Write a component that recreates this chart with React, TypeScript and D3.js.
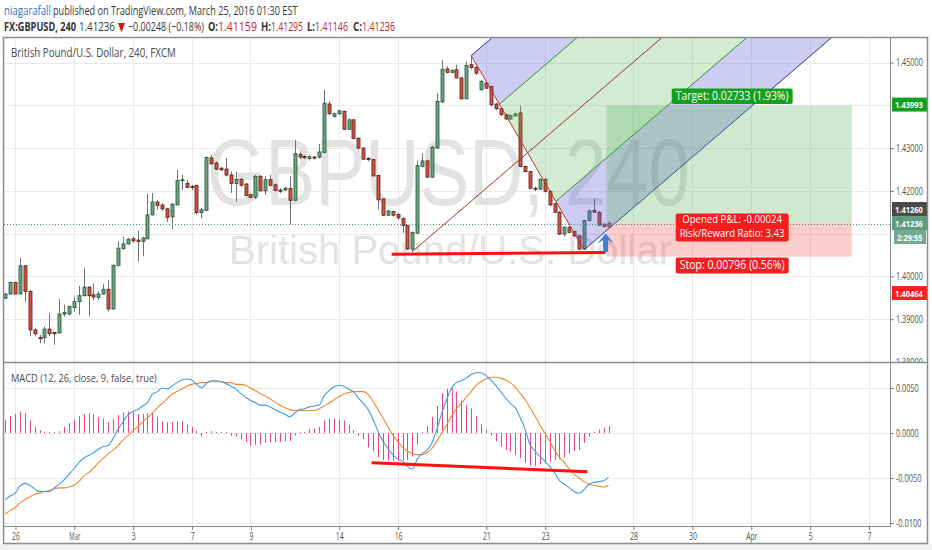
import { useEffect, useRef } from 'react';
import * as d3 from 'd3';

// GBPUSD 240 (FXCM) candles, one entry per 4h bar
const OPEN = [
  1.3949, 1.3959, 1.3986, 1.3959, 1.4025, 1.3965, 1.3875, 1.3857, 1.3857, 1.3877,
  1.3869, 1.3868, 1.3912, 1.3912, 1.3927, 1.3941, 1.3955, 1.3975, 1.3957, 1.3951,
  1.3959, 1.3970, 1.3924, 1.4026, 1.4065, 1.4076, 1.4088, 1.4085, 1.4082, 1.4088,
  1.4144, 1.4174, 1.4167, 1.4158, 1.4139, 1.4167, 1.4224, 1.4217, 1.4210, 1.4213,
  1.4149, 1.4154, 1.4277, 1.4265, 1.4253, 1.4251, 1.4237, 1.4217, 1.4227, 1.4216,
  1.4191, 1.4185, 1.4234, 1.4200, 1.4226, 1.4214, 1.4202, 1.4202, 1.4206, 1.4178,
  1.4285, 1.4280, 1.4276, 1.4279, 1.4279, 1.4290, 1.4403, 1.4374, 1.4380, 1.4386,
  1.4344, 1.4366, 1.4323, 1.4300, 1.4276, 1.4273, 1.4236, 1.4181, 1.4143, 1.4152,
  1.4145, 1.4135, 1.4119, 1.4064, 1.4101, 1.4257, 1.4270, 1.4232, 1.4300, 1.4408,
  1.4485, 1.4477, 1.4483, 1.4464, 1.4415, 1.4495, 1.4488, 1.4436, 1.4452, 1.4444,
  1.4403, 1.4392, 1.4378, 1.4368, 1.4375, 1.4382, 1.4257, 1.4245, 1.4206, 1.4204,
  1.4227, 1.4199, 1.4170, 1.4150, 1.4099, 1.4115, 1.4105, 1.4095, 1.4064, 1.4131,
  1.4154, 1.4150, 1.4122, 1.41159,
];
const HIGH = [
  1.3961, 1.3988, 1.3987, 1.4043, 1.4026, 1.3969, 1.3879, 1.3864, 1.3883, 1.3914,
  1.3871, 1.3947, 1.3934, 1.3931, 1.3953, 1.3978, 1.4019, 1.3977, 1.3983, 1.3965,
  1.3982, 1.3991, 1.4028, 1.4082, 1.4093, 1.4089, 1.4093, 1.4107, 1.4093, 1.4193,
  1.4195, 1.4179, 1.4171, 1.4160, 1.4171, 1.4249, 1.4237, 1.4226, 1.4214, 1.4214,
  1.4160, 1.4280, 1.4284, 1.4269, 1.4255, 1.4277, 1.4245, 1.4245, 1.4230, 1.4218,
  1.4193, 1.4237, 1.4237, 1.4234, 1.4237, 1.4217, 1.4206, 1.4210, 1.4234, 1.4319,
  1.4292, 1.4284, 1.4283, 1.4282, 1.4310, 1.4436, 1.4409, 1.4383, 1.4389, 1.4388,
  1.4369, 1.4368, 1.4325, 1.4302, 1.4279, 1.4274, 1.4237, 1.4182, 1.4156, 1.4153,
  1.4148, 1.4139, 1.4120, 1.4105, 1.4271, 1.4288, 1.4273, 1.4305, 1.4428, 1.4506,
  1.4491, 1.4484, 1.4495, 1.4467, 1.4502, 1.4516, 1.4491, 1.4460, 1.4454, 1.4446,
  1.4406, 1.4393, 1.4380, 1.4378, 1.4382, 1.4399, 1.4259, 1.4247, 1.4210, 1.4230,
  1.4230, 1.4201, 1.4171, 1.4153, 1.4117, 1.4117, 1.4106, 1.4097, 1.4132, 1.4156,
  1.4183, 1.4153, 1.4125, 1.41295,
];
const LOW = [
  1.3947, 1.3957, 1.3958, 1.3958, 1.3941, 1.3860, 1.3860, 1.3844, 1.3844, 1.3860,
  1.3840, 1.3866, 1.3906, 1.3909, 1.3918, 1.3910, 1.3953, 1.3906, 1.3945, 1.3945,
  1.3957, 1.3918, 1.3922, 1.4023, 1.4062, 1.4074, 1.4079, 1.4035, 1.4047, 1.4087,
  1.4142, 1.4156, 1.4153, 1.4127, 1.4110, 1.4166, 1.4202, 1.4206, 1.4202, 1.4144,
  1.4135, 1.4153, 1.4262, 1.4249, 1.4247, 1.4234, 1.4195, 1.4175, 1.4210, 1.4187,
  1.4182, 1.4181, 1.4199, 1.4191, 1.4210, 1.4199, 1.4195, 1.4200, 1.4122, 1.4176,
  1.4274, 1.4274, 1.4271, 1.4273, 1.4276, 1.4288, 1.4378, 1.4372, 1.4378, 1.4343,
  1.4343, 1.4321, 1.4297, 1.4273, 1.4269, 1.4234, 1.4156, 1.4142, 1.4142, 1.4140,
  1.4132, 1.4101, 1.4062, 1.4058, 1.4100, 1.4255, 1.4231, 1.4231, 1.4298, 1.4405,
  1.4475, 1.4475, 1.4463, 1.4414, 1.4414, 1.4484, 1.4471, 1.4435, 1.4438, 1.4397,
  1.4389, 1.4375, 1.4366, 1.4366, 1.4374, 1.4255, 1.4243, 1.4204, 1.4199, 1.4202,
  1.4196, 1.4165, 1.4148, 1.4097, 1.4093, 1.4101, 1.4092, 1.4061, 1.4062, 1.4128,
  1.4148, 1.4118, 1.4115, 1.41146,
];
const CLOSE = [
  1.3959, 1.3986, 1.3959, 1.4025, 1.3965, 1.3875, 1.3866, 1.3854, 1.3877, 1.3866,
  1.3866, 1.3912, 1.3916, 1.3930, 1.3941, 1.3955, 1.3975, 1.3955, 1.3952, 1.3959,
  1.3970, 1.3924, 1.4026, 1.4066, 1.4076, 1.4087, 1.4083, 1.4082, 1.4090, 1.4144,
  1.4174, 1.4166, 1.4158, 1.4138, 1.4169, 1.4224, 1.4226, 1.4208, 1.4208, 1.4149,
  1.4156, 1.4278, 1.4263, 1.4251, 1.4249, 1.4237, 1.4217, 1.4227, 1.4213, 1.4189,
  1.4185, 1.4234, 1.4200, 1.4226, 1.4213, 1.4201, 1.4199, 1.4206, 1.4178, 1.4287,
  1.4279, 1.4278, 1.4280, 1.4277, 1.4291, 1.4405, 1.4380, 1.4380, 1.4387, 1.4344,
  1.4366, 1.4322, 1.4300, 1.4274, 1.4273, 1.4235, 1.4179, 1.4143, 1.4153, 1.4143,
  1.4137, 1.4119, 1.4064, 1.4103, 1.4259, 1.4270, 1.4232, 1.4302, 1.4409, 1.4484,
  1.4477, 1.4481, 1.4464, 1.4415, 1.4493, 1.4488, 1.4475, 1.4456, 1.4440, 1.4401,
  1.4392, 1.4378, 1.4368, 1.4376, 1.4380, 1.4257, 1.4245, 1.4206, 1.4204, 1.4227,
  1.4199, 1.4167, 1.4150, 1.4099, 1.4115, 1.4103, 1.4095, 1.4064, 1.4131, 1.4153,
  1.4150, 1.4120, 1.4117, 1.41236,
];

// MACD (12, 26, close, 9)
const MACD = [
  -0.0074, -0.0070, -0.0067, -0.0059, -0.0056, -0.0058, -0.0062, -0.0065, -0.0065, -0.0065,
  -0.0061, -0.0057, -0.0052, -0.0046, -0.0040, -0.0033, -0.0028, -0.0025, -0.0022, -0.0018,
  -0.0015, -0.0014, -0.0006, 0.0004, 0.0012, 0.0020, 0.0024, 0.0026, 0.0030, 0.0034,
  0.0043, 0.0046, 0.0050, 0.0049, 0.0052, 0.0056, 0.0059, 0.0060, 0.0059, 0.0054,
  0.0050, 0.0055, 0.0058, 0.0058, 0.0057, 0.0055, 0.0052, 0.0049, 0.0044, 0.0040,
  0.0036, 0.0034, 0.0031, 0.0031, 0.0029, 0.0026, 0.0023, 0.0021, 0.0018, 0.0022,
  0.0026, 0.0027, 0.0029, 0.0030, 0.0031, 0.0041, 0.0047, 0.0051, 0.0053, 0.0052,
  0.0049, 0.0046, 0.0039, 0.0033, 0.0026, 0.0015, 0.0002, -0.0009, -0.0017, -0.0024,
  -0.0029, -0.0031, -0.0037, -0.0040, -0.0029, -0.0023, -0.0019, -0.0011, 0.0004, 0.0022,
  0.0037, 0.0050, 0.0056, 0.0058, 0.0061, 0.0065, 0.0067, 0.0067, 0.0064, 0.0059,
  0.0053, 0.0046, 0.0039, 0.0033, 0.0028, 0.0017, 0.0004, -0.0013, -0.0020, -0.0026,
  -0.0031, -0.0037, -0.0044, -0.0053, -0.0057, -0.0061, -0.0065, -0.0067, -0.0063, -0.0057,
  -0.0055, -0.0054, -0.0053, -0.0049,
];
const SIGNAL = [
  -0.0090, -0.0086, -0.0083, -0.0078, -0.0074, -0.0071, -0.0068, -0.0067, -0.0065, -0.0064,
  -0.0062, -0.0061, -0.0061, -0.0060, -0.0058, -0.0054, -0.0048, -0.0044, -0.0039, -0.0033,
  -0.0028, -0.0023, -0.0019, -0.0014, -0.0008, -0.0003, 0.0002, 0.0007, 0.0012, 0.0017,
  0.0022, 0.0028, 0.0033, 0.0038, 0.0043, 0.0046, 0.0049, 0.0052, 0.0054, 0.0055,
  0.0056, 0.0056, 0.0057, 0.0057, 0.0057, 0.0056, 0.0056, 0.0054, 0.0054, 0.0053,
  0.0050, 0.0047, 0.0044, 0.0041, 0.0038, 0.0034, 0.0031, 0.0028, 0.0026, 0.0025,
  0.0025, 0.0025, 0.0025, 0.0025, 0.0027, 0.0030, 0.0033, 0.0037, 0.0040, 0.0043,
  0.0045, 0.0046, 0.0046, 0.0046, 0.0043, 0.0035, 0.0026, 0.0017, 0.0007, -0.0002,
  -0.0009, -0.0016, -0.0020, -0.0023, -0.0024, -0.0024, -0.0022, -0.0017, -0.0009, 0.0000,
  0.0009, 0.0019, 0.0027, 0.0033, 0.0040, 0.0046, 0.0053, 0.0057, 0.0060, 0.0062,
  0.0062, 0.0061, 0.0059, 0.0056, 0.0051, 0.0044, 0.0037, 0.0028, 0.0019, 0.0009,
  0.0000, -0.0009, -0.0019, -0.0027, -0.0033, -0.0040, -0.0046, -0.0050, -0.0054, -0.0057,
  -0.0058, -0.0059, -0.0060, -0.0058,
];
const HIST = [
  0.0014, 0.0019, 0.0021, 0.0024, 0.0022, 0.0014, 0.0007, 0.0003, 0.0001, 0.0000,
  0.0000, 0.0002, 0.0007, 0.0011, 0.0015, 0.0019, 0.0021, 0.0022, 0.0021, 0.0018,
  0.0016, 0.0012, 0.0016, 0.0020, 0.0023, 0.0024, 0.0023, 0.0021, 0.0021, 0.0022,
  0.0023, 0.0018, 0.0013, 0.0012, 0.0012, 0.0013, 0.0013, 0.0009, 0.0007, 0.0002,
  -0.0004, 0.0001, 0.0002, 0.0001, 0.0001, 0.0000, -0.0003, -0.0004, -0.0007, -0.0010,
  -0.0014, -0.0013, -0.0013, -0.0011, -0.0010, -0.0010, -0.0010, -0.0009, -0.0009, -0.0003,
  -0.0001, 0.0001, 0.0004, 0.0005, 0.0007, 0.0014, 0.0016, 0.0016, 0.0015, 0.0014,
  0.0009, 0.0003, -0.0003, -0.0007, -0.0016, -0.0020, -0.0027, -0.0030, -0.0031, -0.0031,
  -0.0031, -0.0030, -0.0030, -0.0026, -0.0013, 0.0001, 0.0008, 0.0018, 0.0030, 0.0044,
  0.0049, 0.0050, 0.0046, 0.0036, 0.0031, 0.0027, 0.0019, 0.0010, 0.0003, -0.0003,
  -0.0009, -0.0015, -0.0019, -0.0021, -0.0024, -0.0028, -0.0033, -0.0036, -0.0037, -0.0035,
  -0.0034, -0.0032, -0.0030, -0.0029, -0.0027, -0.0023, -0.0020, -0.0019, -0.0011, -0.0004,
  0.0001, 0.0004, 0.0006, 0.0008,
];

// time axis: bar index of the first bar of each labelled day
const DATE_TICKS = [2, 14, 26, 38, 50, 68, 80, 98, 110, 128, 140, 152, 164, 176];
const DATE_LABELS = ['26', 'Mar', '3', '7', '9', '14', '16', '21', '23', '28', '30', 'Apr', '5', '7'];
const PRICE_TICKS = [1.45, 1.44, 1.43, 1.42, 1.41, 1.4, 1.39, 1.38];
const MACD_TICKS = [0.005, 0, -0.005, -0.01];

// pitchfork anchors: low, high, low
const FORK_BARS = [83, 95, 118];
const FORK_PRICES = [1.4058, 1.4516, 1.4062];

// long position tool
const ENTRY = 1.4126;
const TARGET = 1.43993;
const STOP = 1.40464;
const LAST = 1.41236;
const POS_BARS = [122.6, 172.6];

// hand drawn lines
const SUPPORT_BARS = [78.8, 122.4];
const SUPPORT_PRICES = [1.4052, 1.4056];
const MACD_TREND_BARS = [74.7, 118.7];
const MACD_TREND_VALUES = [-0.0033, -0.0043];
const ARROW_BAR = 122.4;
const ARROW_PRICES = [1.4057, 1.4101];

// header pieces: text, left, right, colour, bold
const HEADER_1: [string, number, number, string, boolean][] = [
  ['niagarafall', 4, 51, '#2a78c8', false],
  ['published on TradingView.com, March 25, 2016 01:30 EST', 53, 298, '#3a3a3a', false],
];
const HEADER_2: [string, number, number, string, boolean][] = [
  ['FX:GBPUSD, 240', 4, 76, '#333333', true],
  ['1.41236', 79, 115, '#3a3a3a', false],
  ['▼', 118, 125, '#d01818', false],
  ['−0.00248 (−0.18%)', 128, 204, '#3a3a3a', false],
  ['O:', 208, 218, '#333333', true],
  ['1.41159', 218, 257, '#c2262e', false],
  ['H:', 261, 271, '#333333', true],
  ['1.41295', 271, 303, '#c2262e', false],
  ['L:', 307, 315, '#333333', true],
  ['1.41146', 315, 348, '#c2262e', false],
  ['C:', 353, 362, '#333333', true],
  ['1.41236', 362, 395, '#c2262e', false],
];

const FONT = '"Open Sans", "DejaVu Sans", sans-serif';
const L = 4;
const R = 890;
const RR = 928;
const TOP = 38;
const MAIN_B = 362;
const MACD_T = 363;
const MACD_B = 526;
const AXIS_B = 544;

const UP = '#6ba583';
const UP_BORDER = '#225437';
const DOWN = '#d75442';
const DOWN_BORDER = '#5b1a13';
const WICK = '#737375';

const charW = (s: string) =>
  s.split('').reduce((a, c) => a + (c === '.' || c === ':' ? 1.9 : c === '-' ? 2.8 : 4.15), 0);

// squeeze a text horizontally to a given width (the reference uses a narrow face)
const fit = (sel: any, x0: number | ((s: string) => number), w: number | ((s: string) => number), anchor = 'start') => {
  sel.each(function (this: SVGTextElement) {
    const t = d3.select(this);
    const txt = this.textContent || '';
    const y = +(t.attr('y') || 0);
    t.attr('x', 0).attr('y', 0).attr('text-anchor', 'start');
    const n = this.getComputedTextLength();
    const ww = typeof w === 'function' ? w(txt) : w;
    const xx = typeof x0 === 'function' ? x0(txt) : x0;
    const s = n > 0 ? ww / n : 1;
    const left = anchor === 'start' ? xx : anchor === 'middle' ? xx - ww / 2 : xx - ww;
    t.attr('transform', `translate(${left},${y}) scale(${s},1)`);
  });
};

export default function App() {
  const svgRef = useRef<SVGSVGElement>(null);

  useEffect(() => {
    if (!svgRef.current) return;
    const svg = d3.select(svgRef.current);
    svg.selectAll('*').remove();

    const x = d3.scaleLinear().domain([0, 176]).range([5.2, 868.5]);
    const yP = d3.scaleLinear().domain([1.38, 1.45]).range([MAIN_B, 62.5]);
    const yM = d3.scaleLinear().domain([-0.01, 0.005]).range([523, 388]);
    const px = (k: number) => Math.round(x(k)) + 0.5;

    // price-scale badges (centre y, text, colour, left, width)
    const BADGES: [number, string, string, number, number][] = [
      [yP(TARGET) - 1, TARGET.toFixed(5), '#14a01f', R + 2, 36],
      [yP(ENTRY) - 13.5, ENTRY.toFixed(5), '#4a4a4a', R + 2, 36],
      [yP(LAST) - 0.5, LAST.toFixed(5), '#5e9c80', R + 2, 36],
      [yP(LAST) + 13.5, '2:29:55', '#74a991', R + 4, 32],
      [yP(STOP) + 36.5, STOP.toFixed(5), '#ff1c1c', R + 2, 36],
    ];

    const defs = svg.append('defs');
    defs.append('clipPath').attr('id', 'clip-main')
      .append('rect').attr('x', L).attr('y', TOP).attr('width', R - L).attr('height', MAIN_B - TOP);
    defs.append('clipPath').attr('id', 'clip-macd')
      .append('rect').attr('x', L).attr('y', MACD_T).attr('width', R - L).attr('height', MACD_B - MACD_T);
    defs.append('clipPath').attr('id', 'clip-paxis')
      .append('rect').attr('x', R).attr('y', TOP).attr('width', RR - R).attr('height', MAIN_B - TOP);

    svg.append('rect').attr('width', 932).attr('height', 550).attr('fill', '#ffffff');
    svg.append('rect').attr('y', AXIS_B).attr('width', 932).attr('height', 550 - AXIS_B).attr('fill', '#f0f1f3');

    // header
    const header = (rows: [string, number, number, string, boolean][], y: number) => {
      rows.forEach(([t, a, b, c, bold]) => {
        const el = svg.append('text').attr('y', y).attr('font-family', FONT).attr('font-size', 12.5)
          .attr('fill', c).attr('font-weight', bold ? 'bold' : 'normal').text(t);
        fit(el, a, b - a);
      });
    };
    header(HEADER_1, 14.5);
    header(HEADER_2, 30.5);

    // grid
    const grid = svg.append('g').attr('stroke', '#e9e9e9').attr('stroke-width', 1);
    PRICE_TICKS.forEach(v => {
      const y = Math.round(yP(v)) + 0.5;
      if (y > TOP && y < MAIN_B) grid.append('line').attr('x1', L).attr('x2', R).attr('y1', y).attr('y2', y);
    });
    MACD_TICKS.forEach(v => {
      const y = Math.round(yM(v)) + 0.5;
      grid.append('line').attr('x1', L).attr('x2', R).attr('y1', y).attr('y2', y);
    });
    DATE_TICKS.forEach(k => {
      grid.append('line').attr('x1', px(k)).attr('x2', px(k)).attr('y1', TOP).attr('y2', MACD_B);
    });

    // ---------- main pane ----------
    const main = svg.append('g').attr('clip-path', 'url(#clip-main)');

    // watermark
    fit(main.append('text').attr('y', 205)
      .attr('font-family', '"Liberation Sans", Arial, sans-serif').attr('font-size', 94)
      .attr('fill', '#e2e2e2').text('GBPUSD, 240'), 207, 483);
    fit(main.append('text').attr('y', 264)
      .attr('font-family', '"Liberation Sans", Arial, sans-serif').attr('font-size', 40)
      .attr('fill', '#e3e3e3').text('British Pound/U.S. Dollar'), 229, 443);

    // candles
    const bars = d3.range(OPEN.length);
    main.append('g').selectAll('line').data(bars).enter().append('line')
      .attr('x1', k => px(k)).attr('x2', k => px(k))
      .attr('y1', k => yP(HIGH[k])).attr('y2', k => yP(LOW[k]))
      .attr('stroke', WICK).attr('stroke-width', 1);
    main.append('g').selectAll('rect').data(bars).enter().append('rect')
      .attr('x', k => Math.round(x(k)) - 1)
      .attr('width', 3)
      .attr('y', k => yP(Math.max(OPEN[k], CLOSE[k])))
      .attr('height', k => Math.max(1, Math.abs(yP(OPEN[k]) - yP(CLOSE[k]))))
      .attr('fill', k => (CLOSE[k] >= OPEN[k] ? UP : DOWN))
      .attr('stroke', k => (CLOSE[k] >= OPEN[k] ? UP_BORDER : DOWN_BORDER))
      .attr('stroke-width', 0.8);

    // pitchfork
    const p1: [number, number] = [x(FORK_BARS[0]), yP(FORK_PRICES[0])];
    const p2: [number, number] = [x(FORK_BARS[1]), yP(FORK_PRICES[1])];
    const p3: [number, number] = [x(FORK_BARS[2]), yP(FORK_PRICES[2])];
    const mid = (a: number[], b: number[]): [number, number] => [(a[0] + b[0]) / 2, (a[1] + b[1]) / 2];
    const m = mid(p2, p3);
    const dx = m[0] - p1[0];
    const dy = m[1] - p1[1];
    const len = Math.hypot(dx, dy);
    const ext = (p: number[]): [number, number] => [p[0] + (dx / len) * 1200, p[1] + (dy / len) * 1200];
    const uh = mid(p2, m);
    const lh = mid(m, p3);
    const fork = main.append('g');
    const bands: [number[], number[], string][] = [
      [p2, uh, 'rgba(90, 90, 215, 0.30)'],
      [uh, m, 'rgba(76, 175, 80, 0.25)'],
      [m, lh, 'rgba(76, 175, 80, 0.25)'],
      [lh, p3, 'rgba(90, 90, 215, 0.30)'],
    ];
    bands.forEach(([a, b, c]) => {
      fork.append('path')
        .attr('d', d3.line()([a as [number, number], b as [number, number], ext(b), ext(a)]) + 'Z')
        .attr('fill', c);
    });
    const seg = (a: number[], b: number[], color: string) =>
      fork.append('line').attr('x1', a[0]).attr('y1', a[1]).attr('x2', b[0]).attr('y2', b[1])
        .attr('stroke', color).attr('stroke-width', 1);
    seg(p2, ext(p2), '#2e2ea8');
    seg(p3, ext(p3), '#2e2ea8');
    seg(uh, ext(uh), '#2f8f2f');
    seg(lh, ext(lh), '#2f8f2f');
    seg(p1, ext(m), '#9a3428');
    seg(p2, p3, '#b0392b');

    // long position
    const pos = main.append('g');
    const xa = x(POS_BARS[0]);
    const xb = x(POS_BARS[1]);
    pos.append('rect').attr('x', xa).attr('width', xb - xa)
      .attr('y', yP(TARGET)).attr('height', yP(ENTRY) - yP(TARGET))
      .attr('fill', 'rgba(76, 175, 80, 0.27)');
    pos.append('rect').attr('x', xa).attr('width', xb - xa)
      .attr('y', yP(ENTRY)).attr('height', yP(STOP) - yP(ENTRY))
      .attr('fill', 'rgba(244, 67, 54, 0.26)');

    // current price line
    main.append('line').attr('x1', L).attr('x2', R)
      .attr('y1', Math.round(yP(LAST)) + 0.5).attr('y2', Math.round(yP(LAST)) + 0.5)
      .attr('stroke', '#3e8b70').attr('stroke-dasharray', '1,2');

    // support line + arrow
    main.append('line')
      .attr('x1', x(SUPPORT_BARS[0])).attr('y1', yP(SUPPORT_PRICES[0]))
      .attr('x2', x(SUPPORT_BARS[1])).attr('y2', yP(SUPPORT_PRICES[1]))
      .attr('stroke', '#ff1010').attr('stroke-width', 3);
    const ax = x(ARROW_BAR);
    const ay0 = yP(ARROW_PRICES[0]);
    const ay1 = yP(ARROW_PRICES[1]);
    main.append('path')
      .attr('d', `M${ax},${ay1} L${ax + 8},${ay1 + 10} L${ax + 2.5},${ay1 + 7} L${ax + 2.5},${ay0} L${ax - 2.5},${ay0} L${ax - 2.5},${ay1 + 7} L${ax - 8},${ay1 + 10} Z`)
      .attr('fill', '#3f7fd6');

    // position labels
    const cx = (xa + xb) / 2 + 3;
    const label = (top: number, h: number, w: number, bg: string, lines: string[], tw: number, size: number, lead: number) => {
      const g = main.append('g');
      g.append('rect').attr('x', cx - w / 2).attr('y', top).attr('width', w).attr('height', h)
        .attr('rx', 2).attr('fill', bg);
      lines.forEach((s, i) => {
        fit(g.append('text').attr('y', top + size - 0.5 + i * lead)
          .attr('font-family', FONT).attr('font-size', size).attr('fill', '#ffffff').text(s), cx, tw - i * 0, 'middle');
      });
    };
    label(yP(TARGET) - 17, 15.5, 121, '#14a01f', ['Target: 0.02733 (1.93%)'], 113, 12, 0);
    label(yP(ENTRY) - 9, 28, 113, '#f51d1d', ['Opened P&L: -0.00024'], 100, 10, 0);
    label(yP(ENTRY) + 4.5, 0, 0, '#f51d1d', ['Risk/Reward Ratio: 3.43'], 105, 10, 0);
    label(yP(STOP) + 1, 16, 113, '#f51d1d', ['Stop: 0.00796 (0.56%)'], 105, 12, 0);

    // title
    fit(svg.append('text').attr('y', 57).attr('font-family', FONT).attr('font-size', 12.5)
      .attr('fill', '#4a4a4a').text('British Pound/U.S. Dollar, 240, FXCM'), 11, 165);

    // ---------- MACD pane ----------
    const macd = svg.append('g').attr('clip-path', 'url(#clip-macd)');
    macd.append('g').selectAll('line').data(bars).enter().append('line')
      .attr('x1', k => px(k)).attr('x2', k => px(k))
      .attr('y1', yM(0))
      .attr('y2', k => {
        const y = yM(HIST[k]);
        return Math.abs(y - yM(0)) < 1 ? yM(0) - 1 : y;
      })
      .attr('stroke', '#e6468e').attr('stroke-width', 1);
    const lineGen = (vals: number[]) =>
      d3.line<number>().x(k => x(k)).y(k => yM(vals[k])).curve(d3.curveMonotoneX)(bars);
    macd.append('path').attr('d', lineGen(SIGNAL)).attr('fill', 'none')
      .attr('stroke', '#f0882c').attr('stroke-width', 1.1);
    macd.append('path').attr('d', lineGen(MACD)).attr('fill', 'none')
      .attr('stroke', '#3d9be3').attr('stroke-width', 1.1);
    macd.append('line')
      .attr('x1', x(MACD_TREND_BARS[0])).attr('y1', yM(MACD_TREND_VALUES[0]))
      .attr('x2', x(MACD_TREND_BARS[1])).attr('y2', yM(MACD_TREND_VALUES[1]))
      .attr('stroke', '#ff1010').attr('stroke-width', 3);
    fit(svg.append('text').attr('y', 382).attr('font-family', FONT).attr('font-size', 11.5)
      .attr('fill', '#4a4a4a').text('MACD (12, 26, close, 9, false, true)'), 11, 146);

    // ---------- axes ----------
    const styleAxis = (g: any, size: number) => {
      g.select('.domain').remove();
      g.selectAll('line').attr('stroke', '#7a7a7a');
      g.selectAll('text').attr('font-family', FONT).attr('font-size', size).attr('fill', '#4f4f4f');
    };
    // tick labels that sit under a badge are hidden, as on the price scale
    const hidden = (v: number) => BADGES.some(b => Math.abs(b[0] - yP(v)) < 8);
    const pAxis = svg.append('g').attr('clip-path', 'url(#clip-paxis)').append('g')
      .attr('transform', `translate(${R},0)`)
      .call(d3.axisRight(yP).tickValues(PRICE_TICKS.filter(v => !hidden(v)))
        .tickFormat((d: any) => (+d).toFixed(5)).tickSize(4).tickPadding(2));
    styleAxis(pAxis, 10.5);
    fit(pAxis.selectAll('text'), 6, charW);

    const mAxis = svg.append('g').attr('transform', `translate(${R},0)`)
      .call(d3.axisRight(yM).tickValues(MACD_TICKS).tickFormat((d: any) => (+d).toFixed(4)).tickSize(4).tickPadding(2));
    styleAxis(mAxis, 10.5);
    fit(mAxis.selectAll('text'), 6, charW);

    const tAxis = svg.append('g').attr('transform', `translate(0,${MACD_B})`)
      .call(d3.axisBottom(x).tickValues(DATE_TICKS).tickFormat((_d: any, i: number) => DATE_LABELS[i]).tickSize(4).tickPadding(3));
    styleAxis(tAxis, 10.5);
    tAxis.selectAll('line').attr('transform', 'translate(0.5,0)');
    fit(tAxis.selectAll('text'), 0.5, (t: string) => (/[A-Za-z]/.test(t) ? 11 : t.length * 3.9), 'middle');

    // price-scale badges
    BADGES.forEach(([yc, text, bg, x0, w]) => {
      svg.append('rect').attr('x', x0).attr('y', yc - 7).attr('width', w).attr('height', 14).attr('fill', bg);
      fit(svg.append('text').attr('y', yc + 3.6).attr('font-family', FONT).attr('font-size', 9.6)
        .attr('font-weight', 'bold').attr('fill', '#ffffff').text(text), x0 + 3, charW(text) + 1);
    });

    // frame
    const frame = svg.append('g').attr('stroke', '#8c8c8c').attr('fill', 'none');
    frame.append('rect').attr('x', L - 0.5).attr('y', TOP - 0.5).attr('width', RR - L).attr('height', AXIS_B - TOP)
      .attr('stroke-width', 1.5);
    frame.append('line').attr('x1', R + 0.5).attr('x2', R + 0.5).attr('y1', TOP).attr('y2', MACD_B + 1);
    frame.append('line').attr('x1', L).attr('x2', RR).attr('y1', MAIN_B + 0.5).attr('y2', MAIN_B + 0.5)
      .attr('stroke-width', 1.5);
    frame.append('line').attr('x1', L).attr('x2', R + 1).attr('y1', MACD_B + 0.5).attr('y2', MACD_B + 0.5);
  }, []);

  return (
    <svg
      ref={svgRef}
      width={932}
      height={550}
      style={{ position: 'absolute', left: 0, top: 0, display: 'block', background: '#ffffff' }}
    />
  );
}
